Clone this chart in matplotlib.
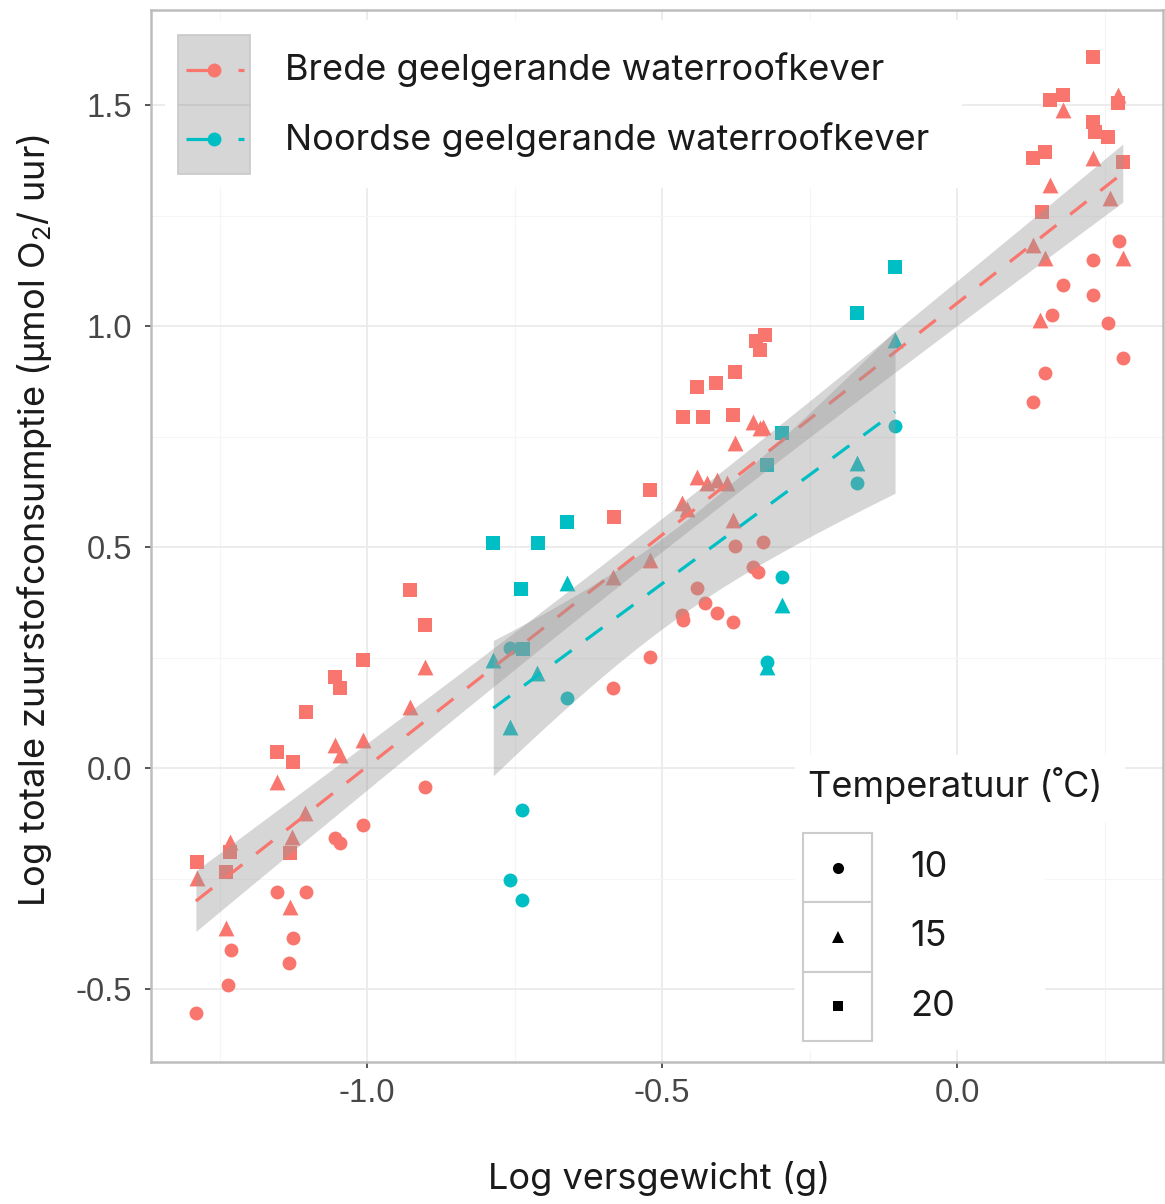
import numpy as np
import matplotlib
matplotlib.use("Agg")
import matplotlib.pyplot as plt
from matplotlib.patches import Rectangle
from matplotlib.lines import Line2D

plt.rcParams["mathtext.fontset"] = "custom"
plt.rcParams["mathtext.rm"] = "Inter"
plt.rcParams["mathtext.it"] = "Inter:italic"

# ---------------- data: log fresh weight (g) vs log O2 consumption ----------------
species = ["Brede geelgerande waterroofkever", "Noordse geelgerande waterroofkever"]
species_colors = ["#F8766D", "#00BFC4"]
temperatures = ["10", "15", "20"]

# Brede geelgerande waterroofkever
brede_10_x = [-1.290, -1.236, -1.231, -1.153, -1.103, -1.125, -1.132, -1.007, -1.054, -1.046, -0.902,
              -0.376, -0.329, -0.346, -0.337, -0.441, -0.427, -0.407, -0.380, -0.466, -0.464, -0.520, -0.583,
              0.275, 0.231, 0.180, 0.231, 0.161, 0.256, 0.281, 0.149, 0.129]
brede_10_y = [-0.554, -0.491, -0.412, -0.281, -0.281, -0.385, -0.441, -0.129, -0.158, -0.170, -0.043,
              0.502, 0.511, 0.455, 0.443, 0.407, 0.373, 0.351, 0.330, 0.347, 0.335, 0.251, 0.181,
              1.192, 1.149, 1.093, 1.070, 1.025, 1.007, 0.928, 0.894, 0.828]

brede_15_x = [-1.288, -1.232, -1.239, -1.131, -1.153, -1.127, -1.105, -1.054, -1.046, -1.007, -0.927, -0.902,
              -0.583, -0.520, -0.466, -0.458, -0.441, -0.424, -0.407, -0.390, -0.380, -0.376, -0.346, -0.334, -0.329,
              0.180, 0.273, 0.231, 0.158, 0.259, 0.129, 0.149, 0.281, 0.141]
brede_15_y = [-0.249, -0.167, -0.362, -0.314, -0.032, -0.156, -0.102, 0.052, 0.029, 0.063, 0.138, 0.229,
              0.432, 0.470, 0.600, 0.585, 0.658, 0.645, 0.652, 0.645, 0.561, 0.735, 0.783, 0.769, 0.771,
              1.489, 1.523, 1.380, 1.319, 1.290, 1.183, 1.154, 1.154, 1.014]

brede_20_x = [-1.288, -1.239, -1.232, -1.153, -1.125, -1.131, -1.103, -1.054, -1.046, -1.007, -0.927, -0.902,
              -0.581, -0.520, -0.464, -0.431, -0.380, -0.441, -0.408, -0.376, -0.326, -0.341, -0.334,
              0.231, 0.158, 0.180, 0.273, 0.231, 0.234, 0.256, 0.281, 0.129, 0.149, 0.144]
brede_20_y = [-0.213, -0.235, -0.190, 0.036, 0.014, -0.192, 0.127, 0.206, 0.181, 0.244, 0.403, 0.324,
              0.568, 0.629, 0.794, 0.794, 0.799, 0.862, 0.871, 0.896, 0.980, 0.965, 0.946,
              1.609, 1.511, 1.523, 1.505, 1.462, 1.439, 1.428, 1.371, 1.380, 1.394, 1.258]

# Noordse geelgerande waterroofkever
noordse_10_x = [-0.758, -0.661, -0.737, -0.758, -0.737, -0.322, -0.297, -0.169, -0.105]
noordse_10_y = [0.271, 0.158, -0.095, -0.253, -0.299, 0.240, 0.432, 0.645, 0.774]

noordse_15_x = [-0.786, -0.758, -0.712, -0.661, -0.322, -0.297, -0.169, -0.105]
noordse_15_y = [0.245, 0.093, 0.215, 0.419, 0.228, 0.369, 0.690, 0.968]

noordse_20_x = [-0.786, -0.710, -0.661, -0.739, -0.736, -0.322, -0.297, -0.169, -0.105]
noordse_20_y = [0.509, 0.509, 0.557, 0.405, 0.270, 0.686, 0.758, 1.029, 1.133]

x_ticks = [-1.0, -0.5, 0.0]
x_tick_labels = ["-1.0", "-0.5", "0.0"]
y_ticks = [-0.5, 0.0, 0.5, 1.0, 1.5]
y_tick_labels = ["-0.5", "0.0", "0.5", "1.0", "1.5"]

groups = [
    [(brede_10_x, brede_10_y), (brede_15_x, brede_15_y), (brede_20_x, brede_20_y)],
    [(noordse_10_x, noordse_10_y), (noordse_15_x, noordse_15_y), (noordse_20_x, noordse_20_y)],
]
markers = ["o", "^", "s"]
marker_sizes = [100, 130, 88]

TEXT_FONT = ["Inter", "DejaVu Sans"]
TEXT_SIZE = 26
TICK_FONT = ["Liberation Sans", "DejaVu Sans"]


def t975(df):
    """Cornish-Fisher approximation of the 97.5% Student-t quantile."""
    z = 1.959964
    g1 = (z**3 + z) / 4
    g2 = (5 * z**5 + 16 * z**3 + 3 * z) / 96
    g3 = (3 * z**7 + 19 * z**5 + 17 * z**3 - 15 * z) / 384
    return z + g1 / df + g2 / df**2 + g3 / df**3


def lm_band(x, y, n_grid=100):
    x = np.asarray(x, float)
    y = np.asarray(y, float)
    n = len(x)
    xm = x.mean()
    sxx = np.sum((x - xm) ** 2)
    b1 = np.sum((x - xm) * (y - y.mean())) / sxx
    b0 = y.mean() - b1 * xm
    resid = y - (b0 + b1 * x)
    s = np.sqrt(np.sum(resid**2) / (n - 2))
    gx = np.linspace(x.min(), x.max(), n_grid)
    fit = b0 + b1 * gx
    se = s * np.sqrt(1 / n + (gx - xm) ** 2 / sxx)
    t = t975(n - 2)
    return gx, fit, fit - t * se, fit + t * se


W, H = 1165, 1204
fig = plt.figure(figsize=(W / 100, H / 100), dpi=100)
fig.patch.set_facecolor("white")

L, R, T, B = 151, 1163, 10, 1062
ax = fig.add_axes([L / W, 1 - B / H, (R - L) / W, (B - T) / H])
ax.set_xlim((L - 957) / 590, (R - 957) / 590)
ax.set_ylim((768 - B) / 442, (768 - T) / 442)

ax.set_xticks(x_ticks)
ax.set_xticklabels(x_tick_labels)
ax.set_yticks(y_ticks)
ax.set_yticklabels(y_tick_labels)
ax.set_xticks([-1.25, -0.75, -0.25, 0.25], minor=True)
ax.set_yticks([-0.25, 0.25, 0.75, 1.25], minor=True)
ax.tick_params(which="major", length=4.5, width=1.4, color="#555555",
               labelsize=23.5, labelcolor="#474747")
ax.tick_params(axis="y", which="major", pad=9)
ax.tick_params(axis="x", which="major", pad=7)
ax.tick_params(which="minor", length=0)
for lab in ax.get_xticklabels() + ax.get_yticklabels():
    lab.set_family(TICK_FONT)
ax.grid(which="major", color="#EBEBEB", linewidth=1.3, zorder=0)
ax.grid(which="minor", color="#F5F5F5", linewidth=0.8, zorder=0)
ax.set_axisbelow(True)
for sp in ax.spines.values():
    sp.set_color("#BDBDBD")
    sp.set_linewidth(1.8)

# points
for gi, species_groups in enumerate(groups):
    for ti, (xs, ys) in enumerate(species_groups):
        ax.scatter(xs, ys, marker=markers[ti], s=marker_sizes[ti], color=species_colors[gi],
                   linewidths=0, zorder=2)

# linear fits with 95% confidence ribbons
for gi, species_groups in enumerate(groups):
    xs = np.concatenate([np.asarray(g[0]) for g in species_groups])
    ys = np.concatenate([np.asarray(g[1]) for g in species_groups])
    gx, fit, lo, hi = lm_band(xs, ys)
    ax.fill_between(gx, lo, hi, color="#999999", alpha=0.4, linewidth=0, zorder=3 + 2 * gi)
    ax.plot(gx, fit, color=species_colors[gi], linewidth=2.3, dashes=(6.5, 5.5),
            dash_capstyle="butt", zorder=4 + 2 * gi)

# axis titles
fig.text(659 / W, 1 - 1178 / H, "Log versgewicht (g)", ha="center", va="center",
         fontsize=TEXT_SIZE, family=TEXT_FONT, color="#1A1A1A")
fig.text(35 / W, 1 - 520 / H, r"Log totale zuurstofconsumptie (µmol O$_2$/ uur)",
         ha="center", va="center", rotation=90, fontsize=TEXT_SIZE, family=TEXT_FONT,
         color="#1A1A1A")

# legends drawn in figure pixel coordinates
ov = fig.add_axes([0, 0, 1, 1], zorder=5)
ov.set_xlim(0, W)
ov.set_ylim(H, 0)
ov.axis("off")
ov.patch.set_alpha(0)

# species legend
ov.add_patch(Rectangle((165, 20), 797, 168, facecolor="white", edgecolor="none", zorder=1))
for i, (name, col) in enumerate(zip(species, species_colors)):
    y0 = 35 + i * 69.5
    ov.add_patch(Rectangle((178, y0), 72, 69.5, facecolor="#D6D6D6", edgecolor="#C8C8C8",
                           linewidth=1.2, zorder=2))
    yc = y0 + 34.75
    ov.add_line(Line2D([186, 212], [yc, yc], color=col, linewidth=2.3, zorder=3,
                       solid_capstyle="butt"))
    ov.add_line(Line2D([238, 244], [yc, yc], color=col, linewidth=2.3, zorder=3,
                       solid_capstyle="butt"))
    ov.plot([214], [yc], marker="o", markersize=10, color=col, markeredgewidth=0, zorder=4)
    ov.text(285, yc, name, ha="left", va="center", fontsize=TEXT_SIZE, family=TEXT_FONT,
            color="#1A1A1A", zorder=4)

# temperature legend
ov.add_patch(Rectangle((795, 755), 330, 67, facecolor="white", edgecolor="none", zorder=1))
ov.add_patch(Rectangle((795, 822), 250, 228, facecolor="white", edgecolor="none", zorder=1))
ov.text(808, 785, "Temperatuur (˚C)", ha="left", va="center", fontsize=TEXT_SIZE,
        family=TEXT_FONT, color="#1A1A1A", zorder=4)
for i, (lab, mk) in enumerate(zip(temperatures, markers)):
    y0 = 833 + i * 69.3
    ov.add_patch(Rectangle((803, y0), 69, 69.3, facecolor="white", edgecolor="#CCCCCC",
                           linewidth=1.5, zorder=2))
    yc = y0 + 34.6
    ms = {"o": 8, "^": 9, "s": 7.5}[mk]
    ov.plot([838], [yc], marker=mk, markersize=ms, color="black", markeredgewidth=0, zorder=4)
    ov.text(910, yc, lab, ha="left", va="center", fontsize=TEXT_SIZE, family=TEXT_FONT,
            color="#1A1A1A", zorder=4)

fig.savefig("out.png", dpi=100, facecolor="white")
